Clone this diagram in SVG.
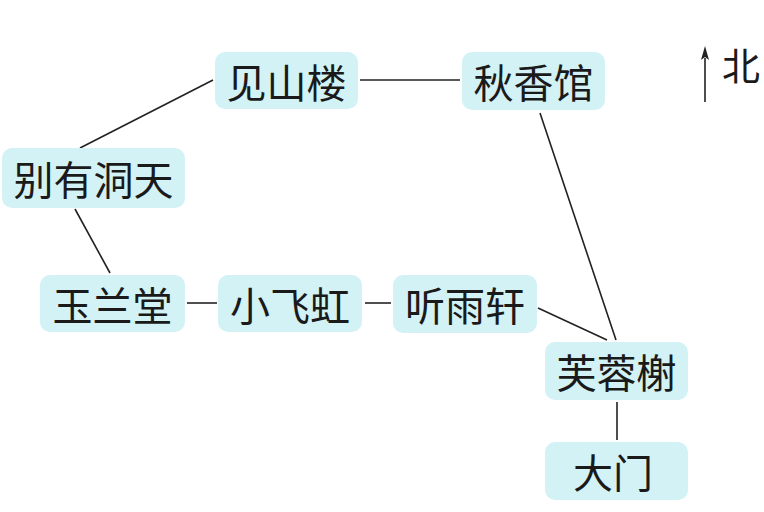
<svg xmlns="http://www.w3.org/2000/svg" width="764" height="512" viewBox="0 0 764 512">
<style>
.box{fill:#d3f2f5}
.lbl{font-family:"Noto Sans CJK SC","Noto Sans CJK JP",sans-serif;font-size:40px;fill:#1a1a1a;text-anchor:middle;dominant-baseline:central}
.edge{stroke:#222;stroke-width:1.6;fill:none}
</style>
<defs>
<marker id="ah" markerWidth="14" markerHeight="8" refX="2" refY="4" orient="auto" markerUnits="userSpaceOnUse" viewBox="0 0 14 8">
<path d="M0,0 L14,4 L0,8 L3,4 Z" fill="#222"/>
</marker>
</defs>
<rect width="764" height="512" fill="#fff"/>
<g id="connectors">
<line class="edge" x1="360" y1="80" x2="460" y2="80"/>
<line class="edge" x1="213" y1="80" x2="80" y2="148"/>
<line class="edge" x1="75" y1="209" x2="110" y2="273"/>
<line class="edge" x1="187" y1="303" x2="217" y2="303"/>
<line class="edge" x1="365" y1="303" x2="391" y2="303"/>
<line class="edge" x1="538" y1="308" x2="607" y2="340"/>
<line class="edge" x1="540" y1="113" x2="616" y2="340"/>
<line class="edge" x1="617" y1="402" x2="617" y2="440"/>
</g>
<g id="n-jianshanlou"><rect class="box" x="215" y="52" width="143" height="57" rx="10"/><text class="lbl" x="286.5" y="80.5">见山楼</text></g>
<g id="n-qiuxiangguan"><rect class="box" x="462" y="52" width="143" height="58" rx="10"/><text class="lbl" x="533.5" y="81">秋香馆</text></g>
<g id="n-bieyoudongtian"><rect class="box" x="2" y="148" width="183" height="60" rx="10"/><text class="lbl" x="93.5" y="178">别有洞天</text></g>
<g id="n-yulantang"><rect class="box" x="40" y="275" width="145" height="57" rx="10"/><text class="lbl" x="112.5" y="303.5">玉兰堂</text></g>
<g id="n-xiaofeihong"><rect class="box" x="218" y="275" width="144" height="57" rx="10"/><text class="lbl" x="290" y="303.5">小飞虹</text></g>
<g id="n-tingyuxuan"><rect class="box" x="393" y="275" width="144" height="58" rx="10"/><text class="lbl" x="465" y="304">听雨轩</text></g>
<g id="n-furongxie"><rect class="box" x="545" y="342" width="143" height="58" rx="10"/><text class="lbl" x="616.5" y="371">芙蓉榭</text></g>
<g id="n-damen"><rect class="box" x="545" y="442" width="143" height="58" rx="10"/><text class="lbl" x="613" y="471">大门</text></g>
<g id="north">
<line class="edge" x1="705" y1="102" x2="705" y2="58" marker-end="url(#ah)"/>
<text class="lbl" x="741" y="63" style="font-size:38px">北</text>
</g>
</svg>
